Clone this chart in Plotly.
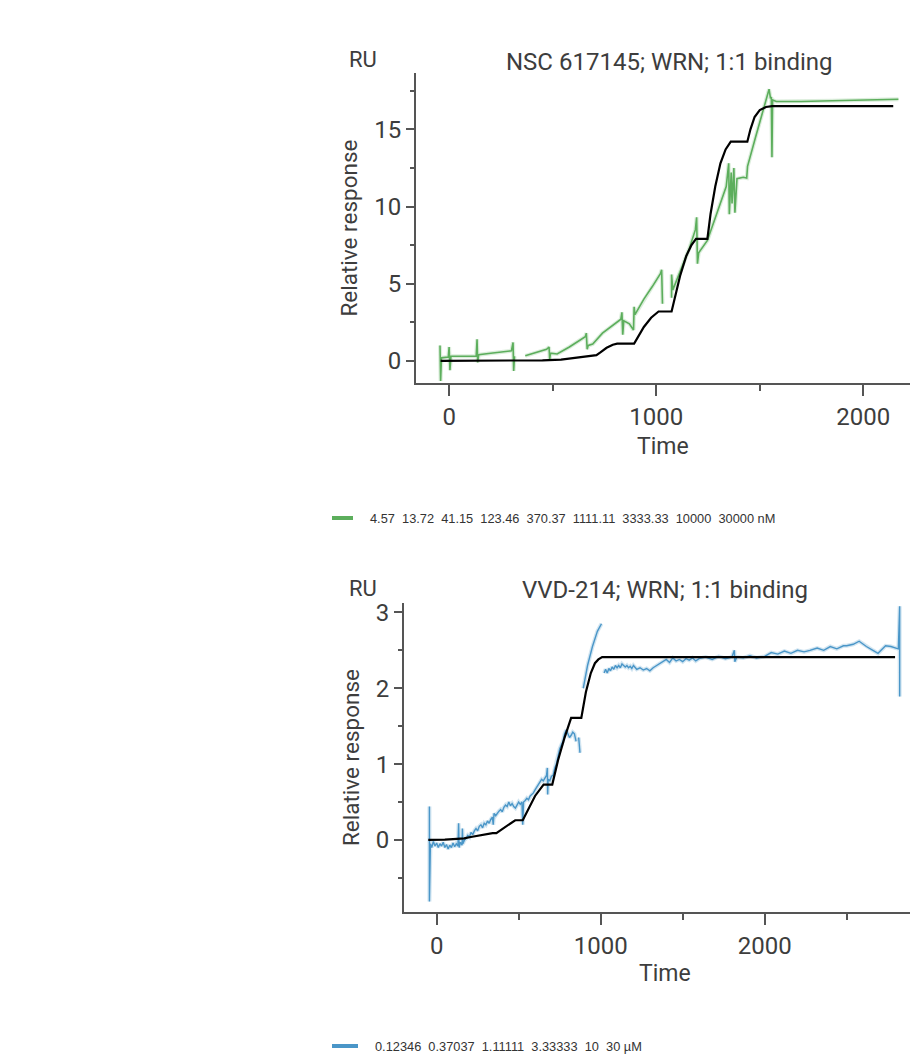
import plotly.graph_objects as go

W, H = 910, 1058

# ---------------- data: NSC 617145 (top panel) ----------------
nsc_time = [-45, -42, -38, -5, -1, 3, 8, 60, 100, 130, 134, 137, 142, 200, 260, 300, 308, 311, 315, None,
            367, 420, 470, 482, 485, 489, 521, 580, 630, 657, 662, 666, 671, 693, 740, 790, 829, 834, 838, 843,
            870, 890, 893, 897, 940, 980, 1020, 1026, 1030, None,
            1074, 1074, 1080, 1120, 1160, 1189, 1195, 1199, 1205, 1247, 1290, 1338, 1350, 1353, 1362, 1366,
            1375, 1380, 1390, 1420, 1437, 1441, 1480, 1520, 1545, 1552, 1556, 1559, 1562, 1580, 1700, 1850,
            2000, 2100, 2170]
nsc_resp = [1.0, -1.3, 0.2, 0.25, 0.9, -0.6, 0.3, 0.28, 0.3, 0.32, 1.4, -0.1, 0.4, 0.5, 0.6, 0.65, 1.2, -0.65, 0.3, None,
            0.33, 0.55, 0.75, 0.9, 0.1, 0.5, 0.45, 0.9, 1.3, 1.57, 1.8, 0.76, 1.0, 1.1, 1.8, 2.3, 2.7, 3.15, 1.7, 2.6,
            2.4, 2.0, 3.5, 3.0, 4.0, 4.8, 5.65, 5.9, 3.7, None,
            4.1, 5.6, 4.6, 5.9, 7.3, 8.5, 9.3, 6.3, 7.0, 7.8, 9.5, 11.3, 12.8, 9.5, 12.2, 10.2,
            12.5, 9.6, 11.8, 11.9, 11.85, 12.6, 14.5, 16.4, 17.6, 17.0, 17.1, 13.2, 16.9, 16.8, 16.8, 16.85,
            16.9, 16.95, 16.95]
nsc_fit_time = [-42, 300, 450, 540, 580, 620, 660, 711, 730, 760, 790, 811, 893, 910, 940, 975, 1011, 1074,
                1090, 1115, 1145, 1170, 1192, 1247, 1262, 1285, 1310, 1335, 1360, 1440, 1455, 1475, 1500,
                1530, 1560, 2145]
nsc_fit_resp = [0, 0.01, 0.04, 0.08, 0.15, 0.25, 0.33, 0.37, 0.55, 0.85, 1.05, 1.12, 1.12, 1.5, 2.2, 2.8, 3.2,
                3.2, 4.1, 5.5, 6.8, 7.5, 7.9, 7.9, 9.5, 11.3, 12.8, 13.7, 14.2, 14.2, 15.0, 15.8, 16.25,
                16.45, 16.5, 16.5]
nsc_conc = ["4.57", "13.72", "41.15", "123.46", "370.37", "1111.11", "3333.33", "10000", "30000"]
nsc_unit = "nM"

# ---------------- data: VVD-214 (bottom panel) ----------------
vvd_time = [-44, -44, -38, -30, -20, -10, 0, 10, 20, 30, 40, 50, 60, 70, 80, 90, 100, 110, 120, 130, 134, 137,
            145, 155, 157, 160, 170, 180, 190, 200, 210, 220, 230, 240, 250, 260, 270, 280, 290, 300, 310, 320,
            330, 340, 345, 350, 360, 370, 380, 390, 400, 410, 420, 430, 440, 450, 460, 470, 480, 490, 500, 510,
            520, 525, 530, 540, 550, 560, 570, 580, 590, 600, 610, 620, 630, 640, 650, 660, 670, 675, 677, 680,
            690, 700, 710, 720, 730, 740, 750, 760, 770, 780, 790, 800, 810, 820, 830, 840, 850, None,
            866, 870, 874, None,
            894, 920, 950, 980, 1005, None,
            1021, 1030, 1040, 1050, 1060, 1070, 1080, 1090, 1100, 1110, 1120, 1130, 1140, 1150, 1160, 1170,
            1180, 1190, 1200, 1210, 1220, 1240, 1260, 1280, 1300, 1320, 1340, 1360, 1380, 1400, 1420, 1440,
            1460, 1480, 1500, 1520, 1540, 1560, 1580, 1600, 1640, 1680, 1720, 1760, 1800, 1815, 1818, 1830,
            1870, 1910, 1950, 2000, 2040, 2080, 2120, 2160, 2200, 2240, 2276, 2320, 2360, 2400, 2440, 2480,
            2500, 2540, 2576, 2620, 2660, 2691, 2737, 2770, 2800, 2815, 2823, 2823]
vvd_resp = [0.44, -0.81, -0.05, -0.1, -0.02, -0.08, -0.04, -0.1, -0.05, -0.08, -0.03, -0.1, -0.06, -0.12, -0.07,
            -0.1, -0.04, -0.09, -0.05, -0.08, 0.22, -0.1,
            -0.03, -0.07, 0.15, -0.05, 0.0, 0.02, 0.06, 0.04, 0.1, 0.07, 0.12, 0.15, 0.12, 0.18, 0.2, 0.16, 0.22,
            0.2, 0.25, 0.22,
            0.27, 0.3, 0.2, 0.35, 0.32, 0.36, 0.38, 0.4, 0.37, 0.43, 0.46, 0.44, 0.5, 0.45, 0.48, 0.44, 0.42, 0.46,
            0.5, 0.47,
            0.5, 0.2, 0.5, 0.52, 0.55, 0.53, 0.58, 0.6, 0.62, 0.66, 0.7, 0.72, 0.76, 0.8, 0.78, 0.82, 0.85, 0.95,
            0.6, 0.8,
            0.78, 0.84, 0.85, 0.95, 1.0, 1.1, 1.2, 1.25, 1.3, 1.4, 1.45, 1.4, 1.35, 1.38, 1.42, 1.4, 1.3, None,
            1.35, 1.27, 1.15, None,
            2.0, 2.3, 2.55, 2.75, 2.85, None,
            2.2, 2.25, 2.2, 2.26, 2.23, 2.28, 2.25, 2.3, 2.27, 2.3, 2.27, 2.32, 2.3, 2.28, 2.3, 2.27,
            2.29, 2.26, 2.3, 2.27, 2.25, 2.27, 2.24, 2.26, 2.23, 2.27, 2.3, 2.33, 2.35, 2.38, 2.34, 2.4,
            2.36, 2.38, 2.35, 2.39, 2.37, 2.4, 2.36, 2.39, 2.41, 2.38, 2.42, 2.39, 2.41, 2.5, 2.35, 2.41,
            2.4, 2.43, 2.4, 2.42, 2.47, 2.45, 2.49, 2.46, 2.5, 2.48, 2.5, 2.53, 2.5, 2.55, 2.52, 2.56,
            2.56, 2.58, 2.62, 2.55, 2.5, 2.46, 2.56, 2.55, 2.53, 2.52, 3.08, 1.89]
vvd_fit_time = [-51, 0, 50, 100, 168, 200, 250, 300, 341, 364, 400, 440, 479, 525, 560, 600, 652, 705, 740,
                780, 820, 882, 910, 940, 965, 986, 1009, 2795]
vvd_fit_resp = [0, 0.0, 0.005, 0.01, 0.02, 0.035, 0.055, 0.075, 0.09, 0.09, 0.14, 0.2, 0.26, 0.26, 0.42, 0.58,
                0.73, 0.73, 1.05, 1.35, 1.61, 1.61, 1.95, 2.2, 2.33, 2.38, 2.41, 2.41]
vvd_conc = ["0.12346", "0.37037", "1.11111", "3.33333", "10", "30"]
vvd_unit = "\u00b5M"

# ---------------- styling ----------------
GREEN = "#5cae5c"
GREEN_HALO = "rgba(92,174,92,0.22)"
BLUE = "#4a96c8"
BLUE_HALO = "rgba(74,150,200,0.25)"
AXC = "#555555"
TXT = "#3d3d3d"
FONT = "Roboto"
TICK_SIZE = 24


def px(x):
    return x / W


def py(y):
    return 1 - y / H


fig = go.Figure()
fig.add_trace(go.Scatter(x=nsc_time, y=nsc_resp, mode="lines", line=dict(color=GREEN_HALO, width=4),
                         xaxis="x", yaxis="y", showlegend=False, connectgaps=False, hoverinfo="skip"))
fig.add_trace(go.Scatter(x=nsc_time, y=nsc_resp, mode="lines", line=dict(color=GREEN, width=1.6),
                         xaxis="x", yaxis="y", showlegend=False, connectgaps=False))
fig.add_trace(go.Scatter(x=nsc_fit_time, y=nsc_fit_resp, mode="lines", line=dict(color="black", width=2.2),
                         xaxis="x", yaxis="y", showlegend=False))
fig.add_trace(go.Scatter(x=vvd_time, y=vvd_resp, mode="lines", line=dict(color=BLUE_HALO, width=4),
                         xaxis="x2", yaxis="y2", showlegend=False, connectgaps=False, hoverinfo="skip"))
fig.add_trace(go.Scatter(x=vvd_time, y=vvd_resp, mode="lines", line=dict(color=BLUE, width=1.4),
                         xaxis="x2", yaxis="y2", showlegend=False, connectgaps=False))
fig.add_trace(go.Scatter(x=vvd_fit_time, y=vvd_fit_resp, mode="lines", line=dict(color="black", width=2.2),
                         xaxis="x2", yaxis="y2", showlegend=False))

axis_common = dict(showline=True, linecolor=AXC, linewidth=2, showgrid=False, zeroline=False,
                   ticks="outside", tickcolor=AXC, tickwidth=1.5, automargin=False,
                   tickfont=dict(family=FONT, size=TICK_SIZE, color=TXT))

fig.update_layout(
    width=W, height=H, margin=dict(l=0, r=0, t=0, b=0), autosize=False,
    paper_bgcolor="white", plot_bgcolor="white",
    font=dict(family=FONT, color=TXT),
    xaxis=dict(domain=[px(416), 1], range=[-161, 2226], anchor="y", tick0=0, dtick=1000, ticklen=11,
               ticklabelstandoff=0,
               minor=dict(dtick=500, tick0=0, ticklen=6, ticks="outside", tickcolor=AXC, tickwidth=1.5),
               **axis_common),
    yaxis=dict(domain=[py(383), py(73)], range=[-1.43, 18.65], anchor="x", tick0=0, dtick=5, ticklen=8,
               minor=dict(dtick=2.5, tick0=0, ticklen=4, ticks="outside", tickcolor=AXC, tickwidth=1.5),
               title=dict(text="Relative response", font=dict(family=FONT, size=22.5, color=TXT), standoff=10),
               **axis_common),
    xaxis2=dict(domain=[px(404), 1], range=[-199, 2886], anchor="y2", tick0=0, dtick=1000, ticklen=11,
                ticklabelstandoff=0,
                minor=dict(dtick=500, tick0=0, ticklen=6, ticks="outside", tickcolor=AXC, tickwidth=1.5),
                **axis_common),
    yaxis2=dict(domain=[py(911.7), py(603.3)], range=[-0.946, 3.12], anchor="x2", tick0=0, dtick=1,
                ticklen=8,
                minor=dict(dtick=0.5, tick0=0, ticklen=4, ticks="outside", tickcolor=AXC, tickwidth=1.5),
                title=dict(text="Relative response", font=dict(family=FONT, size=22.5, color=TXT), standoff=10),
                **axis_common),
)


def note(text, x, y, xanchor="center", size=24, family=FONT, color=TXT):
    return dict(text=text, x=px(x), y=py(y), xref="paper", yref="paper", xanchor=xanchor,
                yanchor="middle", showarrow=False, font=dict(family=family, size=size, color=color))


ann = [
    note("RU", 347, 60, "left", 22),
    note("NSC 617145; WRN; 1:1 binding", 669, 62),
    note("Time", 663, 446, size=23),
    note("RU", 347, 588, "left", 22),
    note("VVD-214; WRN; 1:1 binding", 665, 590),
    note("Time", 665, 973, size=23),
    note("  ".join(nsc_conc) + " " + nsc_unit, 368, 518, "left", 12.8, "Arial", "#333333"),
    note("  ".join(vvd_conc) + " " + vvd_unit, 373, 1046, "left", 12.8, "Arial", "#333333"),
]
fig.update_layout(annotations=ann)

fig.add_shape(type="line", xref="paper", yref="paper", x0=px(332), x1=px(353), y0=py(518), y1=py(518),
              line=dict(color=GREEN, width=4))
fig.add_shape(type="line", xref="paper", yref="paper", x0=px(332), x1=px(358), y0=py(1046), y1=py(1046),
              line=dict(color=BLUE, width=4))

fig.write_html("out.html", config={"displayModeBar": False},
               post_script="document.body.style.margin='0';document.body.style.overflow='hidden';")
